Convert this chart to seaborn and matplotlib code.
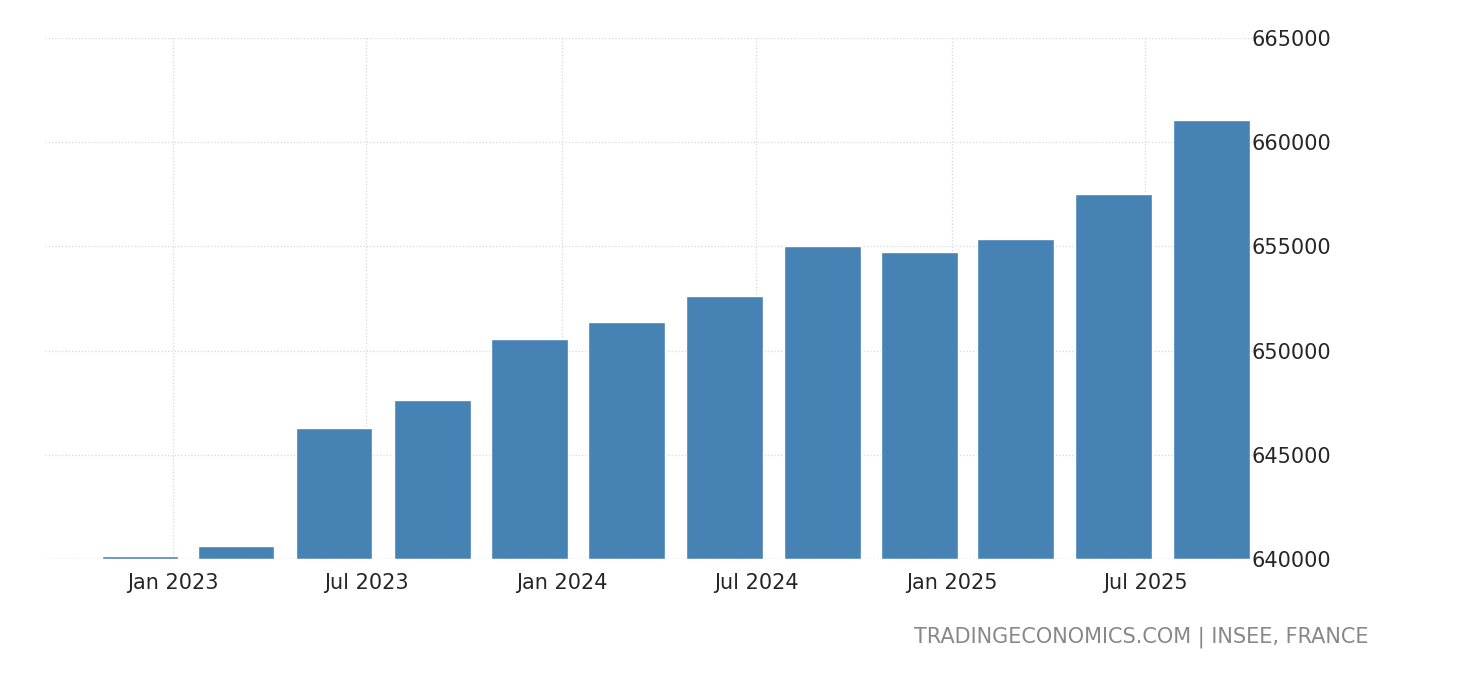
import pandas as pd
import seaborn as sns
import matplotlib
matplotlib.use("Agg")
import matplotlib.pyplot as plt
import matplotlib.dates as mdates

quarters = pd.date_range("2022-12-01", periods=12, freq="3MS")
values = [640140, 640620, 646290, 647630, 650560, 651370,
          652620, 655020, 654730, 655360, 657520, 661070]
yticks = [640000, 645000, 650000, 655000, 660000, 665000]

sns.set_style("white")
plt.rcParams['font.family'] = ['DejaVu Sans']

fig = plt.figure(figsize=(14.6, 6.8), dpi=100)
ax = fig.add_axes([0.031, 0.178, 0.833, 0.766])

ax.bar(quarters, [v - 640000 for v in values], bottom=640000, width=72, color="#4682b4", zorder=2)

ax.set_ylim(640000, 665000)
ax.set_yticks(yticks)
ax.set_yticklabels([str(t) for t in yticks])
ax.set_xlim(pd.Timestamp("2022-09-03"), pd.Timestamp("2025-10-18"))
ax.xaxis.set_major_locator(mdates.MonthLocator(bymonth=[1, 7]))
ax.xaxis.set_major_formatter(mdates.DateFormatter("%b %Y"))

ax.yaxis.tick_right()
ax.tick_params(axis="both", length=0, labelsize=15, pad=10)
ax.tick_params(axis="y", pad=50)
for lab in ax.get_yticklabels():
    lab.set_horizontalalignment("right")
ax.grid(True, color="#d8d8d8", linestyle=":", linewidth=0.9, zorder=0)
for s in ax.spines.values():
    s.set_visible(False)
ax.axhline(640000, color="#cccccc", linestyle=":", linewidth=1)

fig.text(0.937, 0.055, "TRADINGECONOMICS.COM | INSEE, FRANCE", ha="right",
         fontsize=15, color="#888888")

fig.savefig("out.png", dpi=100)
